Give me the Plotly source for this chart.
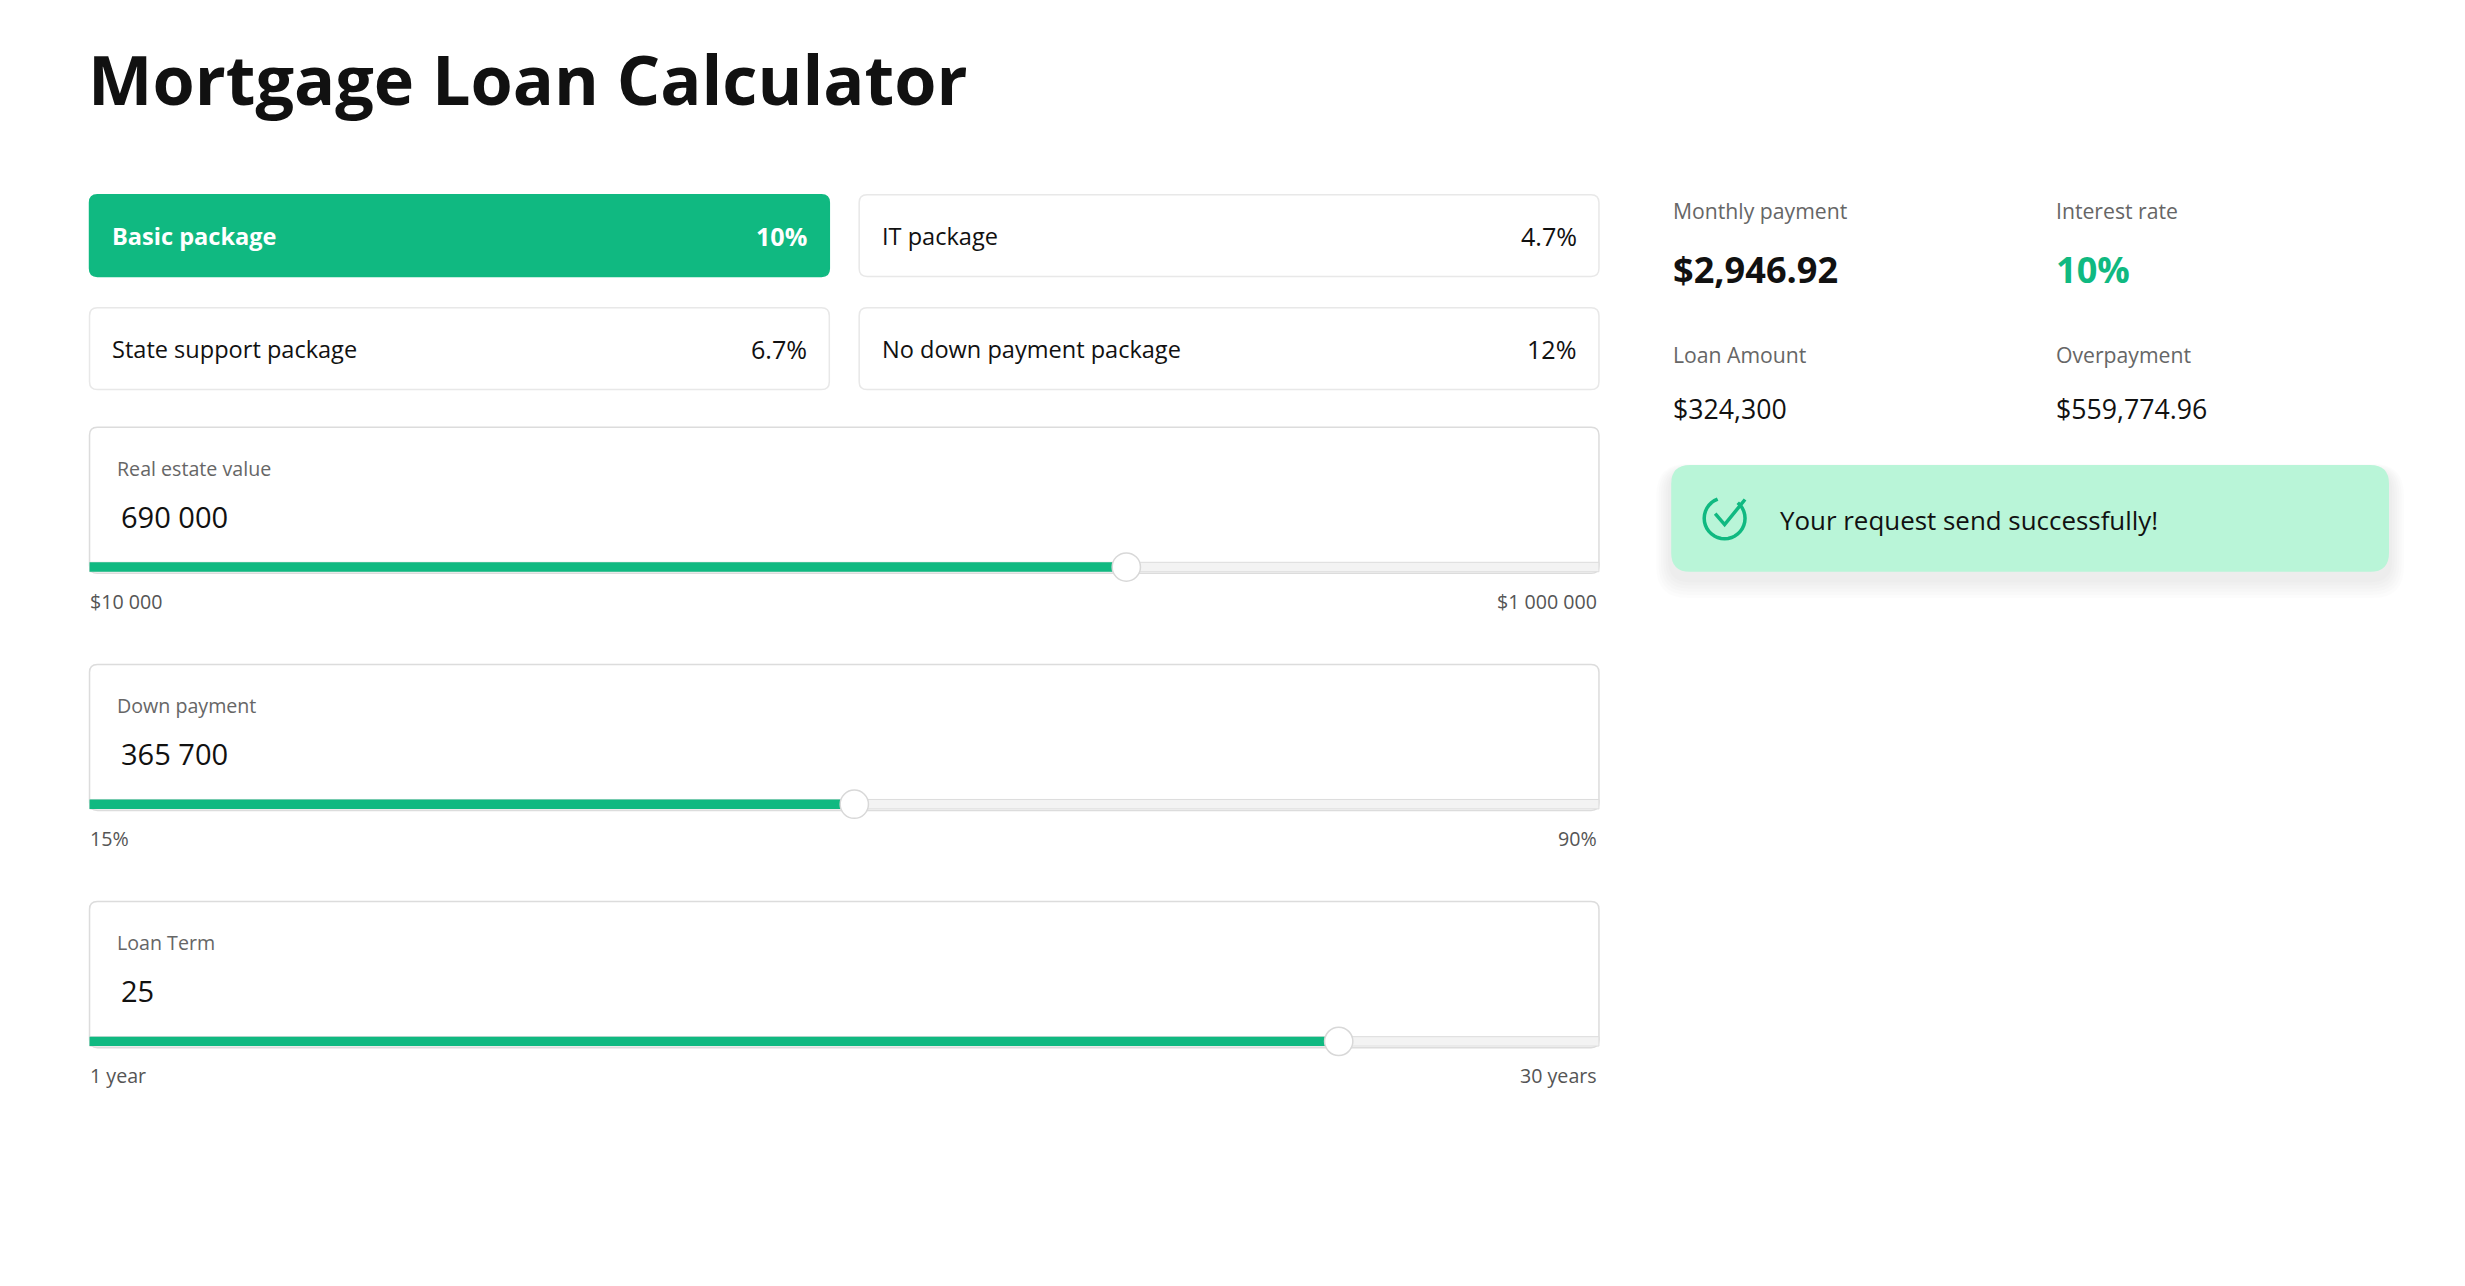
import plotly.graph_objects as go
import math

S = 2465 / 1550 / 1.0125
W, H = 2465, 1286
OFF = 8  # page body margin compensation
GREEN = "#10b981"
FONT = "Open Sans"

title = "Mortgage Loan Calculator"
packages = ["Basic package", "IT package", "State support package", "No down payment package"]
package_rates = ["10%", "4.7%", "6.7%", "12%"]
selected_package = 0

slider_labels = ["Real estate value", "Down payment", "Loan Term"]
slider_display = ["690 000", "365 700", "25"]
slider_values = [690000, 53.0, 25]
slider_min = [10000, 15, 1]
slider_max = [1000000, 90, 30]
slider_min_text = ["$10 000", "15%", "1 year"]
slider_max_text = ["$1 000 000", "90%", "30 years"]

summary_labels = ["Monthly payment", "Interest rate", "Loan Amount", "Overpayment"]
summary_values = ["$2,946.92", "10%", "$324,300", "$559,774.96"]
toast_text = "Your request send successfully!"


def p(v):
    return v * S


def rrect(x0, y0, x1, y1, r):
    x0, y0, x1, y1, r = p(x0), p(y0), p(x1), p(y1), p(r)
    return (f"M{x0+r},{y0} L{x1-r},{y0} Q{x1},{y0} {x1},{y0+r} L{x1},{y1-r} Q{x1},{y1} {x1-r},{y1} "
            f"L{x0+r},{y1} Q{x0},{y1} {x0},{y1-r} L{x0},{y0+r} Q{x0},{y0} {x0+r},{y0} Z")


shapes, ann = [], []


def add_shape(**kw):
    kw.setdefault("xref", "x"); kw.setdefault("yref", "y"); kw.setdefault("layer", "below")
    shapes.append(kw)


def text(x, y, s, size, color="#111", bold=False, anchor="left"):
    ann.append(dict(x=p(x), y=p(y), xref="x", yref="y", text=f"<b>{s}</b>" if bold else s,
                    showarrow=False, xanchor=anchor, yanchor="middle",
                    font=dict(family=FONT, size=size * S, color=color)))


text(55, 50, title, 43.5, bold=True)

for i, (name, rate) in enumerate(zip(packages, package_rates)):
    col, row = i % 2, i // 2
    x0 = 57 + col * 490
    x1 = x0 + 471
    y0 = 124 + row * 72
    y1 = y0 + 52
    sel = i == selected_package
    add_shape(type="path", path=rrect(x0, y0, x1, y1, 5),
              fillcolor=GREEN if sel else "white",
              line=dict(color=GREEN if sel else "#e8e8e8", width=1.5))
    c = "white" if sel else "#111"
    text(x0 + 13, (y0 + y1) / 2, name, 15, c, bold=sel)
    text(x1 - 13, (y0 + y1) / 2, rate, 16, c, bold=sel, anchor="right")

knob_x, knob_y = [], []
for i in range(3):
    y0 = 272 + i * 151
    y1 = y0 + 93
    x0, x1 = 57, 1018
    add_shape(type="path", path=rrect(x0, y0, x1, y1, 5), fillcolor="white",
              line=dict(color="#dcdcdc", width=1.5))
    text(73, y0 + 26, slider_labels[i], 12.5, "#666")
    text(76, y0 + 57, slider_display[i], 18.5, "#111")
    ty = y1 - 4
    frac = (slider_values[i] - slider_min[i]) / (slider_max[i] - slider_min[i])
    xk = x0 + frac * (x1 - x0)
    add_shape(type="rect", x0=p(x0), x1=p(x1), y0=p(ty - 3), y1=p(ty + 3),
              fillcolor="#f3f3f3", line=dict(color="#dddddd", width=1))
    add_shape(type="rect", x0=p(x0), x1=p(xk), y0=p(ty - 3), y1=p(ty + 3),
              fillcolor=GREEN, line=dict(width=0))
    knob_x.append(p(xk)); knob_y.append(p(ty))
    text(56, y1 + 18, slider_min_text[i], 12.5, "#555")
    text(1018, y1 + 18, slider_max_text[i], 12.5, "#555", anchor="right")

for i, (lab, val) in enumerate(zip(summary_labels, summary_values)):
    col, row = i % 2, i // 2
    x = 1064 + col * 244
    y = 134 + row * 92
    text(x, y, lab, 13.5, "#666")
    if row == 0:
        text(x, y + 37, val, 23, GREEN if col == 1 else "#111", bold=True)
    else:
        text(x, y + 34, val, 17, "#111")

for k in range(6):
    d = 16 - k * 2.5
    add_shape(type="path", path=rrect(1064 - d * 0.6, 296 + 4 - d * 0.3, 1521 + d * 0.6, 364 + 4 + d * 0.8, 12 + d / 2),
              fillcolor="rgba(0,0,0,0.012)", line=dict(width=0))
add_shape(type="path", path=rrect(1064, 296, 1521, 364, 12), fillcolor="#b9f5d8", line=dict(width=0))
pts = []
for t in range(0, 301, 10):
    ang = math.radians(-50 + t)
    pts.append((p(1098 + 13 * math.cos(ang)), p(330 + 13 * math.sin(ang))))
add_shape(type="path", path="M" + " L".join(f"{a},{b}" for a, b in pts), line=dict(color=GREEN, width=3.5))
add_shape(type="path", path=f"M{p(1092)},{p(327)} L{p(1098)},{p(334)} L{p(1111)},{p(318)}",
          line=dict(color=GREEN, width=3.5))
text(1132, 331, toast_text, 16.5, "#111")

fig = go.Figure()
fig.add_trace(go.Scatter(x=knob_x, y=knob_y, mode="markers", hoverinfo="skip",
                         marker=dict(size=18 * S, color="white", line=dict(color="#d8d8d8", width=1.5))))
fig.update_layout(width=W, height=H, margin=dict(l=0, r=0, t=0, b=0), showlegend=False,
                  paper_bgcolor="white", plot_bgcolor="white", shapes=shapes, annotations=ann,
                  xaxis=dict(range=[OFF, W + OFF], visible=False, fixedrange=True),
                  yaxis=dict(range=[H + OFF, OFF], visible=False, fixedrange=True))
fig.write_html("out.html", config=dict(displayModeBar=False))
